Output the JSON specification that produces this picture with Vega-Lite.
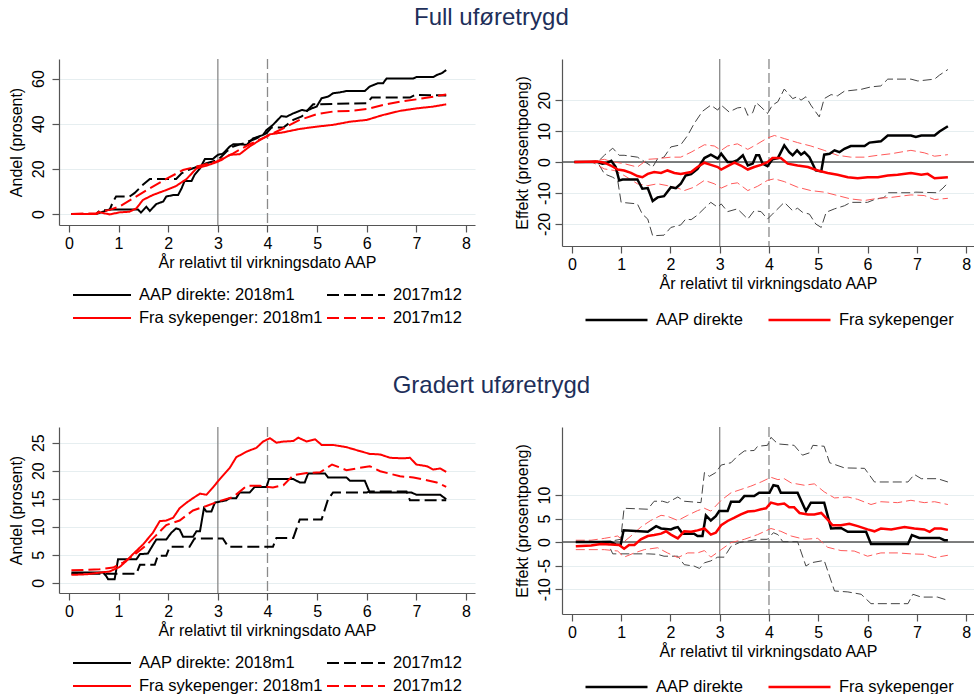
{
"$schema": "https://vega.github.io/schema/vega-lite/v6.json",
"background": "white",
"padding": {"left": 8, "top": 6, "right": 0, "bottom": 0},
"config": {
 "font": "Liberation Sans",
 "view": {"stroke": null},
 "axis": {"labelFontSize": 16, "titleFontSize": 16, "titleFontWeight": "normal", "labelColor": "#000", "titleColor": "#000", "domainColor": "#555", "domainWidth": 1.2, "tickColor": "#555", "tickWidth": 1.2, "tickSize": 7, "gridColor": "#e6eef0", "gridWidth": 1.2},
 "axisX": {"grid": false, "labelPadding": 3, "titlePadding": 3},
 "axisY": {"grid": true, "labelAngle": -90, "labelAlign": "center", "labelBaseline": "bottom", "labelPadding": 6, "titlePadding": 6, "labelExpr": "'' + datum.value"},
 "legend": {"labelFontSize": 16.5, "labelColor": "#000", "symbolType": "stroke", "clipHeight": 20, "rowPadding": 3, "labelOffset": 7, "padding": 0, "labelLimit": 300, "direction": "horizontal"},
 "title": {"fontSize": 24, "fontWeight": "normal", "color": "#1e2f5a", "anchor": "middle", "offset": 28}
},
"spacing": 44,
"resolve": {"scale": {"color": "independent", "strokeDash": "independent", "stroke": "independent"}},
"vconcat": [
 {"title": {"text": "Full uføretrygd"}, "spacing": 39, "resolve": {"scale": {"color": "independent", "strokeDash": "independent", "stroke": "independent"}}, "hconcat": [
  {"width": 416, "height": 166, "layer": [
   {"data": {"values": [{}]}, "mark": {"type": "rule", "color": "#8a8a8a", "strokeWidth": 1.3}, "encoding": {"x": {"datum": 3, "type": "quantitative"}}},
   {"data": {"values": [{}]}, "mark": {"type": "rule", "color": "#8a8a8a", "strokeWidth": 1.3, "strokeDash": [10, 4]}, "encoding": {"x": {"datum": 4, "type": "quantitative"}}},
   {"data": {"name": "fa"}, "mark": {"type": "line", "strokeWidth": 2}, "encoding": {
     "x": {"field": "x", "type": "quantitative", "scale": {"domain": [-0.2, 8.18], "nice": false, "zero": false}, "axis": {"values": [0,1,2,3,4,5,6,7,8], "title": "År relativt til virkningsdato AAP"}},
     "y": {"field": "y", "type": "quantitative", "scale": {"domain": [-4.9, 68.7], "nice": false, "zero": false}, "axis": {"values": [0,20,40,60], "title": "Andel (prosent)"}},
     "color": {"field": "s", "type": "nominal", "scale": {"domain": ["a1","a2","b1","b2"], "range": ["#000000","#000000","#ff0000","#ff0000"]}, "legend": {"orient": "none", "legendX": 13, "legendY": 226, "columns": 2, "columnPadding": 3, "title": null, "symbolSize": 3364, "symbolStrokeWidth": 2, "labelExpr": "datum.value == 'a1' ? 'AAP direkte: 2018m1' : datum.value == 'b1' ? 'Fra sykepenger: 2018m1' : '2017m12'"}},
     "strokeDash": {"field": "s", "type": "nominal", "scale": {"domain": ["a1","a2","b1","b2"], "range": [[1,0],[12,5],[1,0],[12,5]]}, "legend": {"orient": "none", "legendX": 13, "legendY": 226, "columns": 2, "columnPadding": 3, "title": null, "symbolSize": 3364, "symbolStrokeWidth": 2, "labelExpr": "datum.value == 'a1' ? 'AAP direkte: 2018m1' : datum.value == 'b1' ? 'Fra sykepenger: 2018m1' : '2017m12'"}}
   }}
  ]},
  {"width": 412, "height": 187, "layer": [
   {"data": {"values": [{}]}, "mark": {"type": "rule", "color": "#8a8a8a", "strokeWidth": 1.3}, "encoding": {"x": {"datum": 3, "type": "quantitative"}}},
   {"data": {"values": [{}]}, "mark": {"type": "rule", "color": "#8a8a8a", "strokeWidth": 1.3, "strokeDash": [10, 4]}, "encoding": {"x": {"datum": 4, "type": "quantitative"}}},
   {"data": {"values": [{}]}, "mark": {"type": "rule", "color": "#555555", "strokeWidth": 1.5}, "encoding": {"y": {"datum": 0, "type": "quantitative"}}},
   {"data": {"name": "fc"}, "mark": {"type": "line", "strokeWidth": 1, "strokeDash": [9, 4]}, "encoding": {
     "x": {"field": "x", "type": "quantitative"},
     "y": {"field": "y", "type": "quantitative"},
     "stroke": {"field": "s", "type": "nominal", "scale": {"domain": ["aap_hi","aap_lo","syk_hi","syk_lo"], "range": ["#444444","#444444","#ff5a5a","#ff5a5a"]}, "legend": null}
   }},
   {"data": {"name": "fe"}, "mark": {"type": "line", "strokeWidth": 2.5}, "encoding": {
     "x": {"field": "x", "type": "quantitative", "scale": {"domain": [-0.2, 8.16], "nice": false, "zero": false}, "axis": {"values": [0,1,2,3,4,5,6,7,8], "title": "År relativt til virkningsdato AAP"}},
     "y": {"field": "y", "type": "quantitative", "scale": {"domain": [-27.1, 33.3], "nice": false, "zero": false}, "axis": {"values": [-20,-10,0,10,20], "title": "Effekt (prosentpoeng)", "labelPadding": 3}},
     "color": {"field": "s", "type": "nominal", "scale": {"domain": ["AAP direkte","Fra sykepenger"], "range": ["#000000","#ff0000"]}, "legend": {"orient": "none", "legendX": 22, "legendY": 251, "columns": 2, "columnPadding": 23, "title": null, "symbolSize": 3844, "symbolStrokeWidth": 2.5}}
   }}
  ]}
 ]},
 {"title": {"text": "Gradert uføretrygd"}, "spacing": 39, "resolve": {"scale": {"color": "independent", "strokeDash": "independent", "stroke": "independent"}}, "hconcat": [
  {"width": 416, "height": 166, "layer": [
   {"data": {"values": [{}]}, "mark": {"type": "rule", "color": "#8a8a8a", "strokeWidth": 1.3}, "encoding": {"x": {"datum": 3, "type": "quantitative"}}},
   {"data": {"values": [{}]}, "mark": {"type": "rule", "color": "#8a8a8a", "strokeWidth": 1.3, "strokeDash": [10, 4]}, "encoding": {"x": {"datum": 4, "type": "quantitative"}}},
   {"data": {"name": "ga"}, "mark": {"type": "line", "strokeWidth": 2}, "encoding": {
     "x": {"field": "x", "type": "quantitative", "scale": {"domain": [-0.2, 8.18], "nice": false, "zero": false}, "axis": {"values": [0,1,2,3,4,5,6,7,8], "title": "År relativt til virkningsdato AAP"}},
     "y": {"field": "y", "type": "quantitative", "scale": {"domain": [-1.84, 27.8], "nice": false, "zero": false}, "axis": {"values": [0,5,10,15,20,25], "title": "Andel (prosent)"}},
     "color": {"field": "s", "type": "nominal", "scale": {"domain": ["a1","a2","b1","b2"], "range": ["#000000","#000000","#ff0000","#ff0000"]}, "legend": {"orient": "none", "legendX": 13, "legendY": 226, "columns": 2, "columnPadding": 3, "title": null, "symbolSize": 3364, "symbolStrokeWidth": 2, "labelExpr": "datum.value == 'a1' ? 'AAP direkte: 2018m1' : datum.value == 'b1' ? 'Fra sykepenger: 2018m1' : '2017m12'"}},
     "strokeDash": {"field": "s", "type": "nominal", "scale": {"domain": ["a1","a2","b1","b2"], "range": [[1,0],[12,5],[1,0],[12,5]]}, "legend": {"orient": "none", "legendX": 13, "legendY": 226, "columns": 2, "columnPadding": 3, "title": null, "symbolSize": 3364, "symbolStrokeWidth": 2, "labelExpr": "datum.value == 'a1' ? 'AAP direkte: 2018m1' : datum.value == 'b1' ? 'Fra sykepenger: 2018m1' : '2017m12'"}}
   }}
  ]},
  {"width": 412, "height": 187, "layer": [
   {"data": {"values": [{}]}, "mark": {"type": "rule", "color": "#8a8a8a", "strokeWidth": 1.3}, "encoding": {"x": {"datum": 3, "type": "quantitative"}}},
   {"data": {"values": [{}]}, "mark": {"type": "rule", "color": "#8a8a8a", "strokeWidth": 1.3, "strokeDash": [10, 4]}, "encoding": {"x": {"datum": 4, "type": "quantitative"}}},
   {"data": {"values": [{}]}, "mark": {"type": "rule", "color": "#555555", "strokeWidth": 1.5}, "encoding": {"y": {"datum": 0, "type": "quantitative"}}},
   {"data": {"name": "gc"}, "mark": {"type": "line", "strokeWidth": 1, "strokeDash": [9, 4]}, "encoding": {
     "x": {"field": "x", "type": "quantitative"},
     "y": {"field": "y", "type": "quantitative"},
     "stroke": {"field": "s", "type": "nominal", "scale": {"domain": ["aap_hi","aap_lo","syk_hi","syk_lo"], "range": ["#444444","#444444","#ff5a5a","#ff5a5a"]}, "legend": null}
   }},
   {"data": {"name": "ge"}, "mark": {"type": "line", "strokeWidth": 2.5}, "encoding": {
     "x": {"field": "x", "type": "quantitative", "scale": {"domain": [-0.2, 8.16], "nice": false, "zero": false}, "axis": {"values": [0,1,2,3,4,5,6,7,8], "title": "År relativt til virkningsdato AAP"}},
     "y": {"field": "y", "type": "quantitative", "scale": {"domain": [-15.3, 24.5], "nice": false, "zero": false}, "axis": {"values": [-10,-5,0,5,10], "title": "Effekt (prosentpoeng)", "labelPadding": 3}},
     "color": {"field": "s", "type": "nominal", "scale": {"domain": ["AAP direkte","Fra sykepenger"], "range": ["#000000","#ff0000"]}, "legend": {"orient": "none", "legendX": 22, "legendY": 250, "columns": 2, "columnPadding": 23, "title": null, "symbolSize": 3844, "symbolStrokeWidth": 2.5}}
   }}
  ]}
 ]}
],
"datasets": {
"fa": [
{"x":0.05,"y":0,"s":"a1"},{"x":0.55,"y":0,"s":"a1"},{"x":0.62,"y":0.5,"s":"a1"},{"x":0.82,"y":2,"s":"a1"},{"x":1.39,"y":2,"s":"a1"},{"x":1.45,"y":0.6,"s":"a1"},{"x":1.56,"y":3.2,"s":"a1"},{"x":1.63,"y":1.3,"s":"a1"},{"x":1.76,"y":4.4,"s":"a1"},{"x":1.9,"y":5.5,"s":"a1"},{"x":1.96,"y":7.7,"s":"a1"},{"x":2.1,"y":8.4,"s":"a1"},{"x":2.2,"y":8.4,"s":"a1"},{"x":2.27,"y":11.4,"s":"a1"},{"x":2.33,"y":14.6,"s":"a1"},{"x":2.47,"y":14.6,"s":"a1"},{"x":2.53,"y":17.3,"s":"a1"},{"x":2.64,"y":20.2,"s":"a1"},{"x":2.74,"y":24.4,"s":"a1"},{"x":2.9,"y":24.4,"s":"a1"},{"x":3.0,"y":26.2,"s":"a1"},{"x":3.1,"y":26.7,"s":"a1"},{"x":3.24,"y":29.9,"s":"a1"},{"x":3.31,"y":30.9,"s":"a1"},{"x":3.44,"y":30.9,"s":"a1"},{"x":3.58,"y":30.6,"s":"a1"},{"x":3.71,"y":33.5,"s":"a1"},{"x":3.91,"y":35,"s":"a1"},{"x":3.98,"y":37.2,"s":"a1"},{"x":4.11,"y":39.5,"s":"a1"},{"x":4.28,"y":43.4,"s":"a1"},{"x":4.38,"y":43.1,"s":"a1"},{"x":4.52,"y":44.6,"s":"a1"},{"x":4.69,"y":46.1,"s":"a1"},{"x":4.79,"y":45.7,"s":"a1"},{"x":4.89,"y":46.8,"s":"a1"},{"x":4.99,"y":47.6,"s":"a1"},{"x":5.09,"y":51.3,"s":"a1"},{"x":5.22,"y":52,"s":"a1"},{"x":5.32,"y":53.5,"s":"a1"},{"x":5.46,"y":53.9,"s":"a1"},{"x":5.59,"y":54.5,"s":"a1"},{"x":5.96,"y":54.5,"s":"a1"},{"x":6.06,"y":56.5,"s":"a1"},{"x":6.23,"y":58,"s":"a1"},{"x":6.33,"y":58,"s":"a1"},{"x":6.4,"y":60.1,"s":"a1"},{"x":6.94,"y":60.1,"s":"a1"},{"x":7.0,"y":60.7,"s":"a1"},{"x":7.34,"y":60.7,"s":"a1"},{"x":7.41,"y":61.6,"s":"a1"},{"x":7.51,"y":62.4,"s":"a1"},{"x":7.6,"y":63.8,"s":"a1"},
{"x":0.05,"y":0,"s":"a2"},{"x":0.55,"y":0,"s":"a2"},{"x":0.62,"y":1.5,"s":"a2"},{"x":0.82,"y":1.8,"s":"a2"},{"x":0.89,"y":5.5,"s":"a2"},{"x":0.95,"y":7.7,"s":"a2"},{"x":1.22,"y":7.7,"s":"a2"},{"x":1.32,"y":9.2,"s":"a2"},{"x":1.49,"y":12.9,"s":"a2"},{"x":1.63,"y":15.5,"s":"a2"},{"x":2.16,"y":15.5,"s":"a2"},{"x":2.27,"y":18,"s":"a2"},{"x":2.4,"y":19.5,"s":"a2"},{"x":2.53,"y":20.5,"s":"a2"},{"x":2.77,"y":22.5,"s":"a2"},{"x":3.0,"y":23.9,"s":"a2"},{"x":3.17,"y":27.6,"s":"a2"},{"x":3.31,"y":29.9,"s":"a2"},{"x":3.51,"y":31.3,"s":"a2"},{"x":3.78,"y":33.5,"s":"a2"},{"x":3.98,"y":35.8,"s":"a2"},{"x":4.08,"y":38.3,"s":"a2"},{"x":4.32,"y":38.3,"s":"a2"},{"x":4.52,"y":41.7,"s":"a2"},{"x":4.69,"y":43.2,"s":"a2"},{"x":4.92,"y":48.6,"s":"a2"},{"x":6.0,"y":49.1,"s":"a2"},{"x":6.1,"y":51.6,"s":"a2"},{"x":6.87,"y":51.6,"s":"a2"},{"x":6.97,"y":52.8,"s":"a2"},{"x":7.6,"y":52.5,"s":"a2"},
{"x":0.05,"y":0,"s":"b1"},{"x":0.55,"y":0,"s":"b1"},{"x":0.62,"y":0.7,"s":"b1"},{"x":0.82,"y":-0.2,"s":"b1"},{"x":1.02,"y":0.7,"s":"b1"},{"x":1.22,"y":1.0,"s":"b1"},{"x":1.36,"y":2.5,"s":"b1"},{"x":1.49,"y":6.2,"s":"b1"},{"x":1.69,"y":8.4,"s":"b1"},{"x":1.96,"y":10.6,"s":"b1"},{"x":2.16,"y":12.4,"s":"b1"},{"x":2.37,"y":15.5,"s":"b1"},{"x":2.57,"y":20.2,"s":"b1"},{"x":2.77,"y":21.4,"s":"b1"},{"x":2.97,"y":22.9,"s":"b1"},{"x":3.07,"y":23.9,"s":"b1"},{"x":3.24,"y":26.2,"s":"b1"},{"x":3.44,"y":26.5,"s":"b1"},{"x":3.64,"y":29.9,"s":"b1"},{"x":3.85,"y":32.8,"s":"b1"},{"x":4.05,"y":35.3,"s":"b1"},{"x":4.32,"y":36.2,"s":"b1"},{"x":4.65,"y":37.7,"s":"b1"},{"x":4.99,"y":38.7,"s":"b1"},{"x":5.32,"y":39.5,"s":"b1"},{"x":5.66,"y":40.9,"s":"b1"},{"x":6.0,"y":41.7,"s":"b1"},{"x":6.33,"y":43.9,"s":"b1"},{"x":6.67,"y":45.7,"s":"b1"},{"x":7.0,"y":46.8,"s":"b1"},{"x":7.34,"y":47.6,"s":"b1"},{"x":7.6,"y":48.6,"s":"b1"},
{"x":0.05,"y":0,"s":"b2"},{"x":0.55,"y":0.3,"s":"b2"},{"x":0.62,"y":1.0,"s":"b2"},{"x":0.82,"y":1.8,"s":"b2"},{"x":1.02,"y":3.3,"s":"b2"},{"x":1.29,"y":6.9,"s":"b2"},{"x":1.63,"y":11.4,"s":"b2"},{"x":1.96,"y":15.5,"s":"b2"},{"x":2.3,"y":19.5,"s":"b2"},{"x":2.64,"y":21.4,"s":"b2"},{"x":2.97,"y":23.2,"s":"b2"},{"x":3.31,"y":26.9,"s":"b2"},{"x":3.64,"y":30.9,"s":"b2"},{"x":3.98,"y":34.3,"s":"b2"},{"x":4.32,"y":38,"s":"b2"},{"x":4.65,"y":41.7,"s":"b2"},{"x":4.99,"y":44.2,"s":"b2"},{"x":5.32,"y":45.4,"s":"b2"},{"x":5.66,"y":45.7,"s":"b2"},{"x":6.0,"y":46.5,"s":"b2"},{"x":6.33,"y":48.3,"s":"b2"},{"x":6.67,"y":49.8,"s":"b2"},{"x":7.0,"y":50.8,"s":"b2"},{"x":7.34,"y":52,"s":"b2"},{"x":7.6,"y":53,"s":"b2"}
],
"fe": [
{"x":0.05,"y":0,"s":"AAP direkte"},{"x":0.52,"y":0,"s":"AAP direkte"},{"x":0.62,"y":-0.5,"s":"AAP direkte"},{"x":0.72,"y":-0.2,"s":"AAP direkte"},{"x":0.8,"y":0.4,"s":"AAP direkte"},{"x":0.89,"y":-1.6,"s":"AAP direkte"},{"x":0.96,"y":-5.9,"s":"AAP direkte"},{"x":1.03,"y":-5.6,"s":"AAP direkte"},{"x":1.33,"y":-5.6,"s":"AAP direkte"},{"x":1.43,"y":-8.6,"s":"AAP direkte"},{"x":1.54,"y":-8.4,"s":"AAP direkte"},{"x":1.64,"y":-12.6,"s":"AAP direkte"},{"x":1.74,"y":-11.4,"s":"AAP direkte"},{"x":1.87,"y":-11,"s":"AAP direkte"},{"x":2.01,"y":-8.1,"s":"AAP direkte"},{"x":2.11,"y":-8.4,"s":"AAP direkte"},{"x":2.21,"y":-7,"s":"AAP direkte"},{"x":2.31,"y":-4.3,"s":"AAP direkte"},{"x":2.42,"y":-3.9,"s":"AAP direkte"},{"x":2.55,"y":-2.2,"s":"AAP direkte"},{"x":2.69,"y":1.3,"s":"AAP direkte"},{"x":2.82,"y":2.4,"s":"AAP direkte"},{"x":2.96,"y":1.1,"s":"AAP direkte"},{"x":3.03,"y":2.7,"s":"AAP direkte"},{"x":3.16,"y":0,"s":"AAP direkte"},{"x":3.26,"y":0,"s":"AAP direkte"},{"x":3.36,"y":0.6,"s":"AAP direkte"},{"x":3.47,"y":2.2,"s":"AAP direkte"},{"x":3.57,"y":-1.1,"s":"AAP direkte"},{"x":3.67,"y":-0.5,"s":"AAP direkte"},{"x":3.74,"y":2.2,"s":"AAP direkte"},{"x":3.8,"y":2.2,"s":"AAP direkte"},{"x":3.87,"y":-0.5,"s":"AAP direkte"},{"x":3.97,"y":-1.3,"s":"AAP direkte"},{"x":4.07,"y":0.9,"s":"AAP direkte"},{"x":4.18,"y":1.3,"s":"AAP direkte"},{"x":4.31,"y":5.4,"s":"AAP direkte"},{"x":4.41,"y":3.2,"s":"AAP direkte"},{"x":4.48,"y":2.2,"s":"AAP direkte"},{"x":4.57,"y":3.8,"s":"AAP direkte"},{"x":4.65,"y":2.4,"s":"AAP direkte"},{"x":4.72,"y":3.2,"s":"AAP direkte"},{"x":4.82,"y":1.6,"s":"AAP direkte"},{"x":4.95,"y":-2.7,"s":"AAP direkte"},{"x":5.06,"y":-3,"s":"AAP direkte"},{"x":5.12,"y":2.4,"s":"AAP direkte"},{"x":5.23,"y":2.7,"s":"AAP direkte"},{"x":5.33,"y":3.8,"s":"AAP direkte"},{"x":5.43,"y":3.2,"s":"AAP direkte"},{"x":5.53,"y":4.3,"s":"AAP direkte"},{"x":5.66,"y":5.2,"s":"AAP direkte"},{"x":5.94,"y":5.2,"s":"AAP direkte"},{"x":6.04,"y":6.3,"s":"AAP direkte"},{"x":6.27,"y":6.7,"s":"AAP direkte"},{"x":6.41,"y":8.6,"s":"AAP direkte"},{"x":6.88,"y":8.6,"s":"AAP direkte"},{"x":6.98,"y":8.1,"s":"AAP direkte"},{"x":7.09,"y":8.6,"s":"AAP direkte"},{"x":7.36,"y":8.6,"s":"AAP direkte"},{"x":7.46,"y":9.9,"s":"AAP direkte"},{"x":7.63,"y":11.6,"s":"AAP direkte"},
{"x":0.05,"y":0,"s":"Fra sykepenger"},{"x":0.52,"y":0.2,"s":"Fra sykepenger"},{"x":0.66,"y":-0.2,"s":"Fra sykepenger"},{"x":0.79,"y":-1.1,"s":"Fra sykepenger"},{"x":0.93,"y":-2.4,"s":"Fra sykepenger"},{"x":1.06,"y":-2.7,"s":"Fra sykepenger"},{"x":1.2,"y":-3.5,"s":"Fra sykepenger"},{"x":1.33,"y":-4.5,"s":"Fra sykepenger"},{"x":1.43,"y":-4.9,"s":"Fra sykepenger"},{"x":1.54,"y":-3.8,"s":"Fra sykepenger"},{"x":1.67,"y":-3.2,"s":"Fra sykepenger"},{"x":1.81,"y":-3.5,"s":"Fra sykepenger"},{"x":1.94,"y":-2.7,"s":"Fra sykepenger"},{"x":2.08,"y":-3.5,"s":"Fra sykepenger"},{"x":2.21,"y":-3.8,"s":"Fra sykepenger"},{"x":2.42,"y":-3.2,"s":"Fra sykepenger"},{"x":2.55,"y":-1.6,"s":"Fra sykepenger"},{"x":2.69,"y":-0.2,"s":"Fra sykepenger"},{"x":2.82,"y":-0.9,"s":"Fra sykepenger"},{"x":2.96,"y":-1.6,"s":"Fra sykepenger"},{"x":3.03,"y":-2.4,"s":"Fra sykepenger"},{"x":3.16,"y":-1.3,"s":"Fra sykepenger"},{"x":3.3,"y":-0.2,"s":"Fra sykepenger"},{"x":3.43,"y":-1.1,"s":"Fra sykepenger"},{"x":3.57,"y":-2.4,"s":"Fra sykepenger"},{"x":3.7,"y":-1.6,"s":"Fra sykepenger"},{"x":3.84,"y":-0.9,"s":"Fra sykepenger"},{"x":3.97,"y":0,"s":"Fra sykepenger"},{"x":4.07,"y":1.3,"s":"Fra sykepenger"},{"x":4.24,"y":1.3,"s":"Fra sykepenger"},{"x":4.38,"y":-0.5,"s":"Fra sykepenger"},{"x":4.58,"y":-1.1,"s":"Fra sykepenger"},{"x":4.79,"y":-1.6,"s":"Fra sykepenger"},{"x":4.99,"y":-2.7,"s":"Fra sykepenger"},{"x":5.19,"y":-3.5,"s":"Fra sykepenger"},{"x":5.39,"y":-4.1,"s":"Fra sykepenger"},{"x":5.6,"y":-4.9,"s":"Fra sykepenger"},{"x":5.8,"y":-5.2,"s":"Fra sykepenger"},{"x":6.0,"y":-4.9,"s":"Fra sykepenger"},{"x":6.21,"y":-4.9,"s":"Fra sykepenger"},{"x":6.41,"y":-4.3,"s":"Fra sykepenger"},{"x":6.61,"y":-4.1,"s":"Fra sykepenger"},{"x":6.88,"y":-3.5,"s":"Fra sykepenger"},{"x":7.09,"y":-4.1,"s":"Fra sykepenger"},{"x":7.22,"y":-3.8,"s":"Fra sykepenger"},{"x":7.36,"y":-5.2,"s":"Fra sykepenger"},{"x":7.63,"y":-4.9,"s":"Fra sykepenger"}
],
"fc": [
{"x":0.05,"y":0,"s":"aap_hi"},{"x":0.52,"y":0,"s":"aap_hi"},{"x":0.66,"y":2.2,"s":"aap_hi"},{"x":0.83,"y":4.5,"s":"aap_hi"},{"x":0.96,"y":2.2,"s":"aap_hi"},{"x":1.06,"y":2.2,"s":"aap_hi"},{"x":1.33,"y":1.6,"s":"aap_hi"},{"x":1.47,"y":0.2,"s":"aap_hi"},{"x":1.64,"y":-1.6,"s":"aap_hi"},{"x":1.74,"y":1.1,"s":"aap_hi"},{"x":1.87,"y":1.6,"s":"aap_hi"},{"x":2.01,"y":4.9,"s":"aap_hi"},{"x":2.21,"y":5.6,"s":"aap_hi"},{"x":2.35,"y":8.6,"s":"aap_hi"},{"x":2.48,"y":12.4,"s":"aap_hi"},{"x":2.65,"y":16.4,"s":"aap_hi"},{"x":2.82,"y":18.4,"s":"aap_hi"},{"x":2.96,"y":16.8,"s":"aap_hi"},{"x":3.03,"y":18.4,"s":"aap_hi"},{"x":3.19,"y":16.2,"s":"aap_hi"},{"x":3.36,"y":17.5,"s":"aap_hi"},{"x":3.5,"y":17.8,"s":"aap_hi"},{"x":3.57,"y":15.1,"s":"aap_hi"},{"x":3.67,"y":16,"s":"aap_hi"},{"x":3.74,"y":19.2,"s":"aap_hi"},{"x":3.84,"y":17.8,"s":"aap_hi"},{"x":3.97,"y":15.7,"s":"aap_hi"},{"x":4.07,"y":18.4,"s":"aap_hi"},{"x":4.18,"y":19.5,"s":"aap_hi"},{"x":4.31,"y":23.6,"s":"aap_hi"},{"x":4.48,"y":20.5,"s":"aap_hi"},{"x":4.57,"y":21.1,"s":"aap_hi"},{"x":4.65,"y":20,"s":"aap_hi"},{"x":4.75,"y":21.1,"s":"aap_hi"},{"x":4.85,"y":18.4,"s":"aap_hi"},{"x":5.02,"y":14.6,"s":"aap_hi"},{"x":5.12,"y":20.5,"s":"aap_hi"},{"x":5.26,"y":21.8,"s":"aap_hi"},{"x":5.39,"y":21.4,"s":"aap_hi"},{"x":5.53,"y":22.9,"s":"aap_hi"},{"x":5.87,"y":23.5,"s":"aap_hi"},{"x":6.07,"y":24.3,"s":"aap_hi"},{"x":6.27,"y":24.6,"s":"aap_hi"},{"x":6.41,"y":26.8,"s":"aap_hi"},{"x":6.88,"y":26.8,"s":"aap_hi"},{"x":7.02,"y":26.2,"s":"aap_hi"},{"x":7.36,"y":26.8,"s":"aap_hi"},{"x":7.46,"y":28.1,"s":"aap_hi"},{"x":7.63,"y":29.9,"s":"aap_hi"},
{"x":0.05,"y":0,"s":"aap_lo"},{"x":0.52,"y":0,"s":"aap_lo"},{"x":0.66,"y":-3.8,"s":"aap_lo"},{"x":0.83,"y":-4.9,"s":"aap_lo"},{"x":0.93,"y":-5.9,"s":"aap_lo"},{"x":1.0,"y":-13,"s":"aap_lo"},{"x":1.33,"y":-13.5,"s":"aap_lo"},{"x":1.43,"y":-16.8,"s":"aap_lo"},{"x":1.54,"y":-18.4,"s":"aap_lo"},{"x":1.64,"y":-23.8,"s":"aap_lo"},{"x":1.87,"y":-23.6,"s":"aap_lo"},{"x":2.01,"y":-21.1,"s":"aap_lo"},{"x":2.21,"y":-20.3,"s":"aap_lo"},{"x":2.31,"y":-18.4,"s":"aap_lo"},{"x":2.42,"y":-18.6,"s":"aap_lo"},{"x":2.55,"y":-17.1,"s":"aap_lo"},{"x":2.69,"y":-14.9,"s":"aap_lo"},{"x":2.82,"y":-13,"s":"aap_lo"},{"x":2.96,"y":-14.6,"s":"aap_lo"},{"x":3.03,"y":-13.5,"s":"aap_lo"},{"x":3.16,"y":-16,"s":"aap_lo"},{"x":3.36,"y":-15.1,"s":"aap_lo"},{"x":3.57,"y":-18.4,"s":"aap_lo"},{"x":3.7,"y":-15.7,"s":"aap_lo"},{"x":3.84,"y":-16,"s":"aap_lo"},{"x":3.97,"y":-18.4,"s":"aap_lo"},{"x":4.07,"y":-16.8,"s":"aap_lo"},{"x":4.31,"y":-13,"s":"aap_lo"},{"x":4.48,"y":-15.7,"s":"aap_lo"},{"x":4.58,"y":-14.9,"s":"aap_lo"},{"x":4.68,"y":-16.2,"s":"aap_lo"},{"x":4.82,"y":-16.8,"s":"aap_lo"},{"x":4.95,"y":-20,"s":"aap_lo"},{"x":5.06,"y":-21.1,"s":"aap_lo"},{"x":5.16,"y":-16.2,"s":"aap_lo"},{"x":5.33,"y":-15.1,"s":"aap_lo"},{"x":5.53,"y":-14.1,"s":"aap_lo"},{"x":5.66,"y":-13,"s":"aap_lo"},{"x":6.0,"y":-13,"s":"aap_lo"},{"x":6.14,"y":-12.1,"s":"aap_lo"},{"x":6.34,"y":-11.4,"s":"aap_lo"},{"x":6.41,"y":-9.9,"s":"aap_lo"},{"x":6.88,"y":-9.9,"s":"aap_lo"},{"x":6.98,"y":-9.7,"s":"aap_lo"},{"x":7.42,"y":-9.9,"s":"aap_lo"},{"x":7.53,"y":-8.4,"s":"aap_lo"},{"x":7.63,"y":-6.7,"s":"aap_lo"},
{"x":0.05,"y":0,"s":"syk_hi"},{"x":0.39,"y":0.2,"s":"syk_hi"},{"x":0.66,"y":0.9,"s":"syk_hi"},{"x":0.79,"y":0.2,"s":"syk_hi"},{"x":1.06,"y":-0.5,"s":"syk_hi"},{"x":1.33,"y":-1.6,"s":"syk_hi"},{"x":1.54,"y":0.9,"s":"syk_hi"},{"x":1.74,"y":1.1,"s":"syk_hi"},{"x":2.01,"y":1.6,"s":"syk_hi"},{"x":2.21,"y":1.6,"s":"syk_hi"},{"x":2.42,"y":3.2,"s":"syk_hi"},{"x":2.69,"y":5.6,"s":"syk_hi"},{"x":2.89,"y":5.2,"s":"syk_hi"},{"x":3.03,"y":3.8,"s":"syk_hi"},{"x":3.16,"y":5.2,"s":"syk_hi"},{"x":3.36,"y":5.9,"s":"syk_hi"},{"x":3.57,"y":4.1,"s":"syk_hi"},{"x":3.77,"y":5.9,"s":"syk_hi"},{"x":3.97,"y":7.8,"s":"syk_hi"},{"x":4.11,"y":8.6,"s":"syk_hi"},{"x":4.31,"y":7.6,"s":"syk_hi"},{"x":4.58,"y":6.3,"s":"syk_hi"},{"x":4.85,"y":5.2,"s":"syk_hi"},{"x":5.12,"y":3.8,"s":"syk_hi"},{"x":5.39,"y":2.2,"s":"syk_hi"},{"x":5.66,"y":1.6,"s":"syk_hi"},{"x":5.94,"y":1.6,"s":"syk_hi"},{"x":6.21,"y":2.2,"s":"syk_hi"},{"x":6.48,"y":2.7,"s":"syk_hi"},{"x":6.88,"y":3.8,"s":"syk_hi"},{"x":7.15,"y":3,"s":"syk_hi"},{"x":7.36,"y":1.9,"s":"syk_hi"},{"x":7.63,"y":2.4,"s":"syk_hi"},
{"x":0.05,"y":0,"s":"syk_lo"},{"x":0.39,"y":0.2,"s":"syk_lo"},{"x":0.66,"y":-2.2,"s":"syk_lo"},{"x":0.86,"y":-2.7,"s":"syk_lo"},{"x":1.06,"y":-4.3,"s":"syk_lo"},{"x":1.33,"y":-7,"s":"syk_lo"},{"x":1.54,"y":-7.6,"s":"syk_lo"},{"x":1.74,"y":-7,"s":"syk_lo"},{"x":1.94,"y":-7.6,"s":"syk_lo"},{"x":2.15,"y":-8.4,"s":"syk_lo"},{"x":2.28,"y":-9.2,"s":"syk_lo"},{"x":2.48,"y":-8.1,"s":"syk_lo"},{"x":2.69,"y":-5.9,"s":"syk_lo"},{"x":2.89,"y":-7,"s":"syk_lo"},{"x":3.03,"y":-8.4,"s":"syk_lo"},{"x":3.23,"y":-7,"s":"syk_lo"},{"x":3.36,"y":-6.7,"s":"syk_lo"},{"x":3.57,"y":-9.2,"s":"syk_lo"},{"x":3.77,"y":-7.8,"s":"syk_lo"},{"x":3.97,"y":-5.9,"s":"syk_lo"},{"x":4.11,"y":-5.4,"s":"syk_lo"},{"x":4.31,"y":-6.3,"s":"syk_lo"},{"x":4.58,"y":-8.1,"s":"syk_lo"},{"x":4.85,"y":-9.2,"s":"syk_lo"},{"x":5.12,"y":-9.7,"s":"syk_lo"},{"x":5.39,"y":-10.8,"s":"syk_lo"},{"x":5.66,"y":-11.9,"s":"syk_lo"},{"x":5.94,"y":-12.4,"s":"syk_lo"},{"x":6.21,"y":-11.7,"s":"syk_lo"},{"x":6.48,"y":-11.4,"s":"syk_lo"},{"x":6.88,"y":-10.6,"s":"syk_lo"},{"x":7.15,"y":-10.8,"s":"syk_lo"},{"x":7.36,"y":-12.1,"s":"syk_lo"},{"x":7.63,"y":-11.7,"s":"syk_lo"}
],
"ga": [
{"x":0.05,"y":1.8,"s":"a1"},{"x":0.69,"y":1.8,"s":"a1"},{"x":0.75,"y":1.2,"s":"a1"},{"x":0.79,"y":0.6,"s":"a1"},{"x":0.92,"y":0.6,"s":"a1"},{"x":0.99,"y":4.2,"s":"a1"},{"x":1.36,"y":4.2,"s":"a1"},{"x":1.43,"y":5.1,"s":"a1"},{"x":1.59,"y":5.2,"s":"a1"},{"x":1.69,"y":6.7,"s":"a1"},{"x":1.76,"y":7.7,"s":"a1"},{"x":1.96,"y":7.7,"s":"a1"},{"x":2.06,"y":8.9,"s":"a1"},{"x":2.16,"y":9.7,"s":"a1"},{"x":2.23,"y":9.5,"s":"a1"},{"x":2.3,"y":8.2,"s":"a1"},{"x":2.5,"y":8.2,"s":"a1"},{"x":2.57,"y":9.2,"s":"a1"},{"x":2.64,"y":9.2,"s":"a1"},{"x":2.72,"y":13.3,"s":"a1"},{"x":2.77,"y":12.7,"s":"a1"},{"x":2.87,"y":12.7,"s":"a1"},{"x":2.94,"y":14.3,"s":"a1"},{"x":3.17,"y":14.7,"s":"a1"},{"x":3.24,"y":15.1,"s":"a1"},{"x":3.37,"y":15.1,"s":"a1"},{"x":3.44,"y":16.1,"s":"a1"},{"x":3.64,"y":16.1,"s":"a1"},{"x":3.74,"y":17.1,"s":"a1"},{"x":3.98,"y":17.1,"s":"a1"},{"x":4.03,"y":18.5,"s":"a1"},{"x":4.52,"y":18.5,"s":"a1"},{"x":4.65,"y":17.9,"s":"a1"},{"x":4.75,"y":17.9,"s":"a1"},{"x":4.82,"y":19.5,"s":"a1"},{"x":5.16,"y":19.5,"s":"a1"},{"x":5.22,"y":18.8,"s":"a1"},{"x":5.59,"y":18.8,"s":"a1"},{"x":5.66,"y":18.2,"s":"a1"},{"x":5.96,"y":18.2,"s":"a1"},{"x":6.06,"y":16.1,"s":"a1"},{"x":6.9,"y":16.1,"s":"a1"},{"x":7.0,"y":15.7,"s":"a1"},{"x":7.48,"y":15.7,"s":"a1"},{"x":7.6,"y":14.9,"s":"a1"},
{"x":0.05,"y":1.6,"s":"a2"},{"x":1.36,"y":1.6,"s":"a2"},{"x":1.43,"y":3.2,"s":"a2"},{"x":1.73,"y":3.2,"s":"a2"},{"x":1.79,"y":4.8,"s":"a2"},{"x":1.96,"y":4.8,"s":"a2"},{"x":2.03,"y":6.4,"s":"a2"},{"x":2.43,"y":6.4,"s":"a2"},{"x":2.53,"y":7.9,"s":"a2"},{"x":3.1,"y":7.9,"s":"a2"},{"x":3.21,"y":6.4,"s":"a2"},{"x":4.11,"y":6.4,"s":"a2"},{"x":4.18,"y":8.0,"s":"a2"},{"x":4.52,"y":8.0,"s":"a2"},{"x":4.65,"y":11.3,"s":"a2"},{"x":5.09,"y":11.3,"s":"a2"},{"x":5.22,"y":14.9,"s":"a2"},{"x":5.32,"y":16.1,"s":"a2"},{"x":6.0,"y":16.1,"s":"a2"},{"x":6.06,"y":16.3,"s":"a2"},{"x":6.8,"y":16.3,"s":"a2"},{"x":6.87,"y":14.7,"s":"a2"},{"x":7.6,"y":14.7,"s":"a2"},
{"x":0.05,"y":1.4,"s":"b1"},{"x":0.35,"y":1.5,"s":"b1"},{"x":0.62,"y":1.8,"s":"b1"},{"x":0.82,"y":2.0,"s":"b1"},{"x":1.02,"y":2.8,"s":"b1"},{"x":1.16,"y":3.9,"s":"b1"},{"x":1.29,"y":5.1,"s":"b1"},{"x":1.49,"y":6.8,"s":"b1"},{"x":1.69,"y":8.9,"s":"b1"},{"x":1.83,"y":11,"s":"b1"},{"x":1.96,"y":11.1,"s":"b1"},{"x":2.1,"y":11.6,"s":"b1"},{"x":2.23,"y":13.3,"s":"b1"},{"x":2.37,"y":14.3,"s":"b1"},{"x":2.5,"y":15.1,"s":"b1"},{"x":2.64,"y":15.9,"s":"b1"},{"x":2.77,"y":15.7,"s":"b1"},{"x":2.9,"y":17,"s":"b1"},{"x":3.04,"y":18.5,"s":"b1"},{"x":3.24,"y":20.5,"s":"b1"},{"x":3.37,"y":22.4,"s":"b1"},{"x":3.58,"y":23.4,"s":"b1"},{"x":3.78,"y":24.1,"s":"b1"},{"x":3.91,"y":25.2,"s":"b1"},{"x":4.05,"y":25.8,"s":"b1"},{"x":4.18,"y":25,"s":"b1"},{"x":4.32,"y":25.2,"s":"b1"},{"x":4.52,"y":25.3,"s":"b1"},{"x":4.62,"y":25.9,"s":"b1"},{"x":4.79,"y":25.2,"s":"b1"},{"x":4.96,"y":25.6,"s":"b1"},{"x":5.09,"y":24.6,"s":"b1"},{"x":5.32,"y":24.6,"s":"b1"},{"x":5.59,"y":24.2,"s":"b1"},{"x":5.86,"y":23.5,"s":"b1"},{"x":6.06,"y":23,"s":"b1"},{"x":6.27,"y":22.9,"s":"b1"},{"x":6.47,"y":22.3,"s":"b1"},{"x":6.74,"y":22.2,"s":"b1"},{"x":6.87,"y":22.3,"s":"b1"},{"x":7.0,"y":21.1,"s":"b1"},{"x":7.21,"y":20.8,"s":"b1"},{"x":7.34,"y":20.2,"s":"b1"},{"x":7.48,"y":20.4,"s":"b1"},{"x":7.6,"y":19.8,"s":"b1"},
{"x":0.05,"y":2.2,"s":"b2"},{"x":0.62,"y":2.4,"s":"b2"},{"x":0.89,"y":2.7,"s":"b2"},{"x":1.09,"y":3.6,"s":"b2"},{"x":1.29,"y":4.8,"s":"b2"},{"x":1.56,"y":6.7,"s":"b2"},{"x":1.76,"y":8.5,"s":"b2"},{"x":1.96,"y":10.3,"s":"b2"},{"x":2.23,"y":11.1,"s":"b2"},{"x":2.5,"y":12.9,"s":"b2"},{"x":2.77,"y":13.7,"s":"b2"},{"x":3.04,"y":14.6,"s":"b2"},{"x":3.31,"y":15.3,"s":"b2"},{"x":3.58,"y":17.3,"s":"b2"},{"x":3.85,"y":17.3,"s":"b2"},{"x":4.11,"y":17,"s":"b2"},{"x":4.32,"y":17.4,"s":"b2"},{"x":4.52,"y":19.2,"s":"b2"},{"x":4.79,"y":19.6,"s":"b2"},{"x":5.06,"y":19.7,"s":"b2"},{"x":5.3,"y":21.1,"s":"b2"},{"x":5.59,"y":20.1,"s":"b2"},{"x":5.86,"y":20.5,"s":"b2"},{"x":6.06,"y":20.8,"s":"b2"},{"x":6.27,"y":19.9,"s":"b2"},{"x":6.67,"y":19,"s":"b2"},{"x":6.94,"y":18.8,"s":"b2"},{"x":7.21,"y":18.3,"s":"b2"},{"x":7.41,"y":17.9,"s":"b2"},{"x":7.6,"y":17.1,"s":"b2"}
],
"ge": [
{"x":0.08,"y":0,"s":"AAP direkte"},{"x":0.79,"y":0,"s":"AAP direkte"},{"x":0.89,"y":-0.5,"s":"AAP direkte"},{"x":0.99,"y":-0.6,"s":"AAP direkte"},{"x":1.05,"y":2.5,"s":"AAP direkte"},{"x":1.54,"y":2.2,"s":"AAP direkte"},{"x":1.71,"y":3.4,"s":"AAP direkte"},{"x":1.81,"y":2.9,"s":"AAP direkte"},{"x":2.01,"y":2.7,"s":"AAP direkte"},{"x":2.08,"y":3.0,"s":"AAP direkte"},{"x":2.15,"y":3.2,"s":"AAP direkte"},{"x":2.25,"y":1.8,"s":"AAP direkte"},{"x":2.48,"y":1.8,"s":"AAP direkte"},{"x":2.55,"y":1.3,"s":"AAP direkte"},{"x":2.65,"y":1.3,"s":"AAP direkte"},{"x":2.72,"y":5.7,"s":"AAP direkte"},{"x":2.82,"y":4.6,"s":"AAP direkte"},{"x":2.92,"y":5.5,"s":"AAP direkte"},{"x":2.99,"y":6.6,"s":"AAP direkte"},{"x":3.16,"y":6.6,"s":"AAP direkte"},{"x":3.23,"y":8.6,"s":"AAP direkte"},{"x":3.4,"y":8.6,"s":"AAP direkte"},{"x":3.5,"y":9.8,"s":"AAP direkte"},{"x":3.7,"y":9.8,"s":"AAP direkte"},{"x":3.8,"y":10.5,"s":"AAP direkte"},{"x":4.01,"y":10.5,"s":"AAP direkte"},{"x":4.09,"y":12.1,"s":"AAP direkte"},{"x":4.18,"y":11.9,"s":"AAP direkte"},{"x":4.24,"y":10.5,"s":"AAP direkte"},{"x":4.58,"y":10.5,"s":"AAP direkte"},{"x":4.75,"y":6.6,"s":"AAP direkte"},{"x":4.85,"y":8.4,"s":"AAP direkte"},{"x":5.12,"y":8.4,"s":"AAP direkte"},{"x":5.26,"y":2.9,"s":"AAP direkte"},{"x":5.46,"y":3.0,"s":"AAP direkte"},{"x":5.6,"y":2.2,"s":"AAP direkte"},{"x":5.97,"y":2.2,"s":"AAP direkte"},{"x":6.07,"y":-0.4,"s":"AAP direkte"},{"x":6.82,"y":-0.4,"s":"AAP direkte"},{"x":6.9,"y":1.5,"s":"AAP direkte"},{"x":7.05,"y":0.9,"s":"AAP direkte"},{"x":7.46,"y":0.9,"s":"AAP direkte"},{"x":7.56,"y":0.4,"s":"AAP direkte"},{"x":7.63,"y":0.4,"s":"AAP direkte"},
{"x":0.08,"y":-0.9,"s":"Fra sykepenger"},{"x":0.39,"y":-0.7,"s":"Fra sykepenger"},{"x":0.59,"y":-0.4,"s":"Fra sykepenger"},{"x":0.79,"y":-0.5,"s":"Fra sykepenger"},{"x":0.96,"y":-0.6,"s":"Fra sykepenger"},{"x":1.06,"y":-1.4,"s":"Fra sykepenger"},{"x":1.16,"y":-0.6,"s":"Fra sykepenger"},{"x":1.27,"y":-0.6,"s":"Fra sykepenger"},{"x":1.4,"y":0.6,"s":"Fra sykepenger"},{"x":1.54,"y":1.3,"s":"Fra sykepenger"},{"x":1.67,"y":1.5,"s":"Fra sykepenger"},{"x":1.81,"y":1.8,"s":"Fra sykepenger"},{"x":1.91,"y":2.3,"s":"Fra sykepenger"},{"x":2.01,"y":1.6,"s":"Fra sykepenger"},{"x":2.15,"y":0.8,"s":"Fra sykepenger"},{"x":2.28,"y":2.3,"s":"Fra sykepenger"},{"x":2.42,"y":2.2,"s":"Fra sykepenger"},{"x":2.55,"y":2.5,"s":"Fra sykepenger"},{"x":2.69,"y":2.9,"s":"Fra sykepenger"},{"x":2.82,"y":1.6,"s":"Fra sykepenger"},{"x":2.92,"y":2.0,"s":"Fra sykepenger"},{"x":3.03,"y":3.6,"s":"Fra sykepenger"},{"x":3.16,"y":4.5,"s":"Fra sykepenger"},{"x":3.3,"y":5.2,"s":"Fra sykepenger"},{"x":3.43,"y":5.9,"s":"Fra sykepenger"},{"x":3.57,"y":6.5,"s":"Fra sykepenger"},{"x":3.7,"y":6.6,"s":"Fra sykepenger"},{"x":3.84,"y":7.0,"s":"Fra sykepenger"},{"x":3.94,"y":7.2,"s":"Fra sykepenger"},{"x":4.04,"y":8.4,"s":"Fra sykepenger"},{"x":4.18,"y":8.0,"s":"Fra sykepenger"},{"x":4.31,"y":8.2,"s":"Fra sykepenger"},{"x":4.41,"y":7.4,"s":"Fra sykepenger"},{"x":4.51,"y":7.4,"s":"Fra sykepenger"},{"x":4.62,"y":6.2,"s":"Fra sykepenger"},{"x":4.79,"y":5.9,"s":"Fra sykepenger"},{"x":4.92,"y":5.9,"s":"Fra sykepenger"},{"x":5.06,"y":6.2,"s":"Fra sykepenger"},{"x":5.19,"y":4.8,"s":"Fra sykepenger"},{"x":5.29,"y":3.6,"s":"Fra sykepenger"},{"x":5.46,"y":3.6,"s":"Fra sykepenger"},{"x":5.63,"y":3.9,"s":"Fra sykepenger"},{"x":5.8,"y":3.4,"s":"Fra sykepenger"},{"x":6.0,"y":2.7,"s":"Fra sykepenger"},{"x":6.14,"y":2.3,"s":"Fra sykepenger"},{"x":6.27,"y":2.9,"s":"Fra sykepenger"},{"x":6.48,"y":2.7,"s":"Fra sykepenger"},{"x":6.75,"y":3.2,"s":"Fra sykepenger"},{"x":6.95,"y":2.9,"s":"Fra sykepenger"},{"x":7.15,"y":2.7,"s":"Fra sykepenger"},{"x":7.26,"y":2.2,"s":"Fra sykepenger"},{"x":7.36,"y":2.9,"s":"Fra sykepenger"},{"x":7.49,"y":2.9,"s":"Fra sykepenger"},{"x":7.63,"y":2.6,"s":"Fra sykepenger"}
],
"gc": [
{"x":0.08,"y":0,"s":"aap_hi"},{"x":0.79,"y":0.2,"s":"aap_hi"},{"x":0.99,"y":0.6,"s":"aap_hi"},{"x":1.06,"y":7.2,"s":"aap_hi"},{"x":1.54,"y":7.0,"s":"aap_hi"},{"x":1.67,"y":8.7,"s":"aap_hi"},{"x":1.84,"y":8.7,"s":"aap_hi"},{"x":1.94,"y":8.4,"s":"aap_hi"},{"x":2.15,"y":9.6,"s":"aap_hi"},{"x":2.28,"y":8.7,"s":"aap_hi"},{"x":2.62,"y":8.4,"s":"aap_hi"},{"x":2.69,"y":14.8,"s":"aap_hi"},{"x":2.79,"y":14.0,"s":"aap_hi"},{"x":2.92,"y":14.8,"s":"aap_hi"},{"x":3.03,"y":16.4,"s":"aap_hi"},{"x":3.23,"y":16.9,"s":"aap_hi"},{"x":3.36,"y":18.3,"s":"aap_hi"},{"x":3.5,"y":19.4,"s":"aap_hi"},{"x":3.7,"y":19.5,"s":"aap_hi"},{"x":3.77,"y":20.4,"s":"aap_hi"},{"x":3.97,"y":20.6,"s":"aap_hi"},{"x":4.04,"y":22.3,"s":"aap_hi"},{"x":4.18,"y":20.9,"s":"aap_hi"},{"x":4.51,"y":20.6,"s":"aap_hi"},{"x":4.68,"y":18.5,"s":"aap_hi"},{"x":4.82,"y":19,"s":"aap_hi"},{"x":4.89,"y":20.6,"s":"aap_hi"},{"x":5.12,"y":20.4,"s":"aap_hi"},{"x":5.23,"y":16.9,"s":"aap_hi"},{"x":5.53,"y":15.8,"s":"aap_hi"},{"x":5.94,"y":15.7,"s":"aap_hi"},{"x":6.14,"y":12.8,"s":"aap_hi"},{"x":6.82,"y":12.8,"s":"aap_hi"},{"x":6.95,"y":14.4,"s":"aap_hi"},{"x":7.09,"y":13.5,"s":"aap_hi"},{"x":7.42,"y":13.5,"s":"aap_hi"},{"x":7.63,"y":12.8,"s":"aap_hi"},
{"x":0.08,"y":0,"s":"aap_lo"},{"x":0.72,"y":0,"s":"aap_lo"},{"x":0.83,"y":-2.5,"s":"aap_lo"},{"x":1.54,"y":-2.5,"s":"aap_lo"},{"x":1.74,"y":-2.6,"s":"aap_lo"},{"x":1.87,"y":-3.0,"s":"aap_lo"},{"x":2.15,"y":-3.0,"s":"aap_lo"},{"x":2.28,"y":-4.8,"s":"aap_lo"},{"x":2.48,"y":-5.1,"s":"aap_lo"},{"x":2.59,"y":-5.6,"s":"aap_lo"},{"x":2.69,"y":-4.4,"s":"aap_lo"},{"x":2.82,"y":-4.0,"s":"aap_lo"},{"x":2.96,"y":-3.2,"s":"aap_lo"},{"x":3.09,"y":-3.2,"s":"aap_lo"},{"x":3.23,"y":-0.9,"s":"aap_lo"},{"x":3.4,"y":-0.1,"s":"aap_lo"},{"x":3.57,"y":0.2,"s":"aap_lo"},{"x":3.77,"y":0.6,"s":"aap_lo"},{"x":3.97,"y":0.6,"s":"aap_lo"},{"x":4.09,"y":2.0,"s":"aap_lo"},{"x":4.18,"y":1.6,"s":"aap_lo"},{"x":4.28,"y":0.1,"s":"aap_lo"},{"x":4.58,"y":0.1,"s":"aap_lo"},{"x":4.75,"y":-5.1,"s":"aap_lo"},{"x":4.85,"y":-4.4,"s":"aap_lo"},{"x":5.12,"y":-3.9,"s":"aap_lo"},{"x":5.33,"y":-10.4,"s":"aap_lo"},{"x":5.6,"y":-10.6,"s":"aap_lo"},{"x":5.87,"y":-11.1,"s":"aap_lo"},{"x":6.07,"y":-13.1,"s":"aap_lo"},{"x":6.82,"y":-13.1,"s":"aap_lo"},{"x":6.92,"y":-11.1,"s":"aap_lo"},{"x":7.09,"y":-11.7,"s":"aap_lo"},{"x":7.42,"y":-11.7,"s":"aap_lo"},{"x":7.63,"y":-12.4,"s":"aap_lo"},
{"x":0.08,"y":0.4,"s":"syk_hi"},{"x":0.39,"y":0.4,"s":"syk_hi"},{"x":0.66,"y":0.8,"s":"syk_hi"},{"x":0.93,"y":1.3,"s":"syk_hi"},{"x":1.06,"y":0.1,"s":"syk_hi"},{"x":1.2,"y":1.3,"s":"syk_hi"},{"x":1.4,"y":3.2,"s":"syk_hi"},{"x":1.6,"y":4.6,"s":"syk_hi"},{"x":1.81,"y":5.7,"s":"syk_hi"},{"x":1.94,"y":5.5,"s":"syk_hi"},{"x":2.15,"y":4.6,"s":"syk_hi"},{"x":2.35,"y":5.7,"s":"syk_hi"},{"x":2.55,"y":6.7,"s":"syk_hi"},{"x":2.69,"y":7.2,"s":"syk_hi"},{"x":2.82,"y":6.6,"s":"syk_hi"},{"x":3.03,"y":8.9,"s":"syk_hi"},{"x":3.23,"y":10.5,"s":"syk_hi"},{"x":3.43,"y":11.2,"s":"syk_hi"},{"x":3.63,"y":11.9,"s":"syk_hi"},{"x":3.84,"y":12.8,"s":"syk_hi"},{"x":4.04,"y":13.8,"s":"syk_hi"},{"x":4.18,"y":13.3,"s":"syk_hi"},{"x":4.31,"y":13.5,"s":"syk_hi"},{"x":4.45,"y":12.6,"s":"syk_hi"},{"x":4.72,"y":12.1,"s":"syk_hi"},{"x":4.92,"y":12.4,"s":"syk_hi"},{"x":5.12,"y":10.7,"s":"syk_hi"},{"x":5.33,"y":9.4,"s":"syk_hi"},{"x":5.6,"y":9.6,"s":"syk_hi"},{"x":5.8,"y":9.1,"s":"syk_hi"},{"x":6.07,"y":8.0,"s":"syk_hi"},{"x":6.27,"y":8.6,"s":"syk_hi"},{"x":6.61,"y":8.4,"s":"syk_hi"},{"x":6.88,"y":8.9,"s":"syk_hi"},{"x":7.15,"y":8.4,"s":"syk_hi"},{"x":7.36,"y":8.6,"s":"syk_hi"},{"x":7.63,"y":8.0,"s":"syk_hi"},
{"x":0.08,"y":-1.6,"s":"syk_lo"},{"x":0.66,"y":-1.6,"s":"syk_lo"},{"x":0.93,"y":-1.9,"s":"syk_lo"},{"x":1.06,"y":-3.2,"s":"syk_lo"},{"x":1.27,"y":-2.3,"s":"syk_lo"},{"x":1.47,"y":-1.6,"s":"syk_lo"},{"x":1.74,"y":-1.2,"s":"syk_lo"},{"x":1.94,"y":-2.3,"s":"syk_lo"},{"x":2.15,"y":-3.3,"s":"syk_lo"},{"x":2.35,"y":-2.3,"s":"syk_lo"},{"x":2.55,"y":-2.3,"s":"syk_lo"},{"x":2.69,"y":-1.8,"s":"syk_lo"},{"x":2.82,"y":-3.2,"s":"syk_lo"},{"x":3.03,"y":-1.6,"s":"syk_lo"},{"x":3.23,"y":-0.1,"s":"syk_lo"},{"x":3.5,"y":0.6,"s":"syk_lo"},{"x":3.77,"y":1.6,"s":"syk_lo"},{"x":4.04,"y":2.9,"s":"syk_lo"},{"x":4.24,"y":2.3,"s":"syk_lo"},{"x":4.45,"y":1.3,"s":"syk_lo"},{"x":4.72,"y":0.6,"s":"syk_lo"},{"x":4.99,"y":0.8,"s":"syk_lo"},{"x":5.19,"y":-1.1,"s":"syk_lo"},{"x":5.46,"y":-1.8,"s":"syk_lo"},{"x":5.73,"y":-1.9,"s":"syk_lo"},{"x":6.0,"y":-3.0,"s":"syk_lo"},{"x":6.27,"y":-2.3,"s":"syk_lo"},{"x":6.61,"y":-2.3,"s":"syk_lo"},{"x":6.88,"y":-2.5,"s":"syk_lo"},{"x":7.15,"y":-2.6,"s":"syk_lo"},{"x":7.36,"y":-3.3,"s":"syk_lo"},{"x":7.63,"y":-2.8,"s":"syk_lo"}
]
}
}
